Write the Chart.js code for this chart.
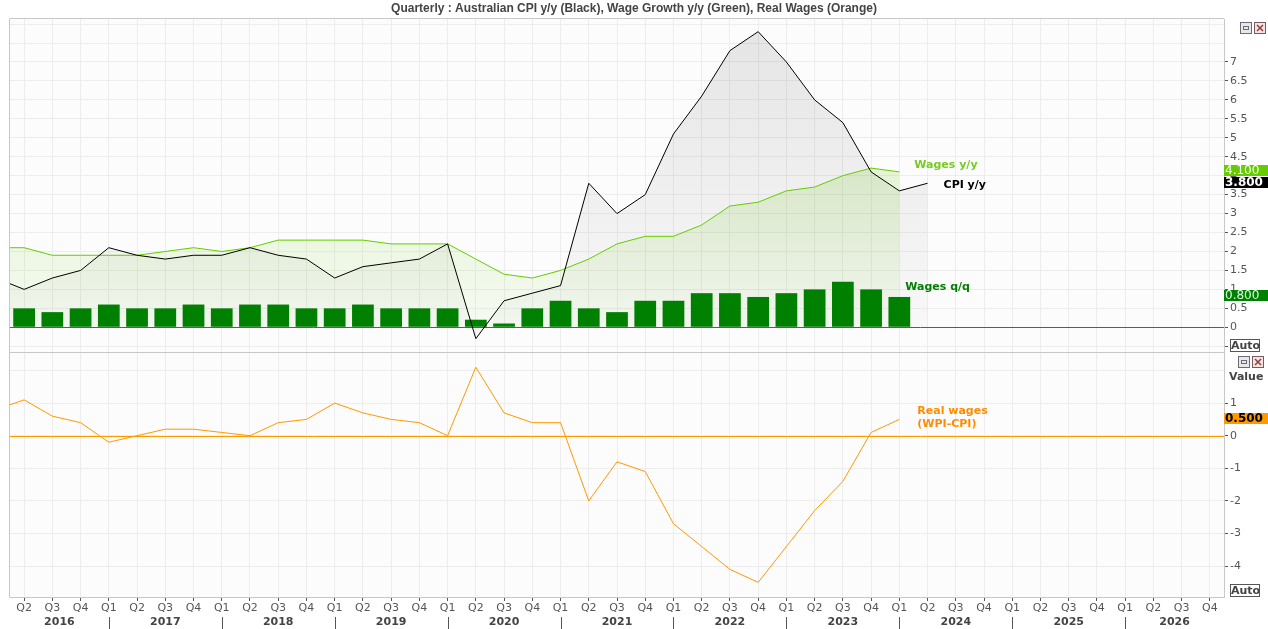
<!DOCTYPE html>
<html>
<head>
<meta charset="utf-8">
<script src="https://cdn.jsdelivr.net/npm/chart.js@4.4.1/dist/chart.umd.min.js"></script>
<style>
    html, body { margin: 0; padding: 0; background: #ffffff; }
    #wrap { position: relative; width: 1268px; height: 629px; overflow: hidden; }
    #top { position: absolute; left: 0; top: 0; }
    #bottom { position: absolute; left: 0; top: 352px; }
</style>
</head>
<body>
<div id="wrap">
    <canvas id="top" width="1268" height="353"></canvas>
    <canvas id="bottom" width="1268" height="277"></canvas>
</div>
<script>
// Quarter axis labels, 2016 Q2 to 2026 Q4 (index 0 = 2016 Q2)
const quarterLabels = [
    'Q2', 'Q3', 'Q4',
    'Q1', 'Q2', 'Q3', 'Q4',
    'Q1', 'Q2', 'Q3', 'Q4',
    'Q1', 'Q2', 'Q3', 'Q4',
    'Q1', 'Q2', 'Q3', 'Q4',
    'Q1', 'Q2', 'Q3', 'Q4',
    'Q1', 'Q2', 'Q3', 'Q4',
    'Q1', 'Q2', 'Q3', 'Q4',
    'Q1', 'Q2', 'Q3', 'Q4',
    'Q1', 'Q2', 'Q3', 'Q4',
    'Q1', 'Q2', 'Q3', 'Q4'
];
const years = ['2016', '2017', '2018', '2019', '2020', '2021', '2022', '2023', '2024', '2025', '2026'];

// Series start at 2016 Q1 (index -1, just off the left edge)
const cpiYoY = [1.3, 1.0, 1.3, 1.5, 2.1, 1.9, 1.8, 1.9, 1.9, 2.1, 1.9, 1.8, 1.3, 1.6, 1.7, 1.8,
    2.2, -0.3, 0.7, 0.9, 1.1, 3.8, 3.0, 3.5, 5.1, 6.1, 7.3, 7.8, 7.0, 6.0, 5.4, 4.1, 3.6, 3.8];
const wagesYoY = [2.1, 2.1, 1.9, 1.9, 1.9, 1.9, 2.0, 2.1, 2.0, 2.1, 2.3, 2.3, 2.3, 2.3, 2.2, 2.2,
    2.2, 1.8, 1.4, 1.3, 1.5, 1.8, 2.2, 2.4, 2.4, 2.7, 3.2, 3.3, 3.6, 3.7, 4.0, 4.2, 4.1];
const realWages = [0.8, 1.1, 0.6, 0.4, -0.2, 0.0, 0.2, 0.2, 0.1, 0.0, 0.4, 0.5, 1.0, 0.7, 0.5, 0.4,
    0.0, 2.1, 0.7, 0.4, 0.4, -2.0, -0.8, -1.1, -2.7, -3.4, -4.1, -4.5, -3.4, -2.3, -1.4, 0.1, 0.5];
// Wages q/q starts at 2016 Q2 (index 0)
const wagesQoQ = [0.5, 0.4, 0.5, 0.6, 0.5, 0.5, 0.6, 0.5, 0.6, 0.6, 0.5, 0.5, 0.6, 0.5, 0.5, 0.5,
    0.2, 0.1, 0.5, 0.7, 0.5, 0.4, 0.7, 0.7, 0.9, 0.9, 0.8, 0.9, 1.0, 1.2, 1.0, 0.8];

const topTicks = [-0.5, 0, 0.5, 1, 1.5, 2, 2.5, 3, 3.5, 4, 4.5, 5, 5.5, 6, 6.5, 7, 7.5, 8];
const bottomTicks = [-4, -3, -2, -1, 0, 1, 2];

const X_MIN = -0.5;
const X_MAX = 42.5;
const FONT = 'DejaVu Sans';

function pts(arr, start) {
    return arr.map((v, i) => ({ x: start + i, y: v }));
}

function lastOf(arr, start) {
    return { x: start + arr.length - 1, y: arr[arr.length - 1] };
}

// Gradient fill under a line, from a value down to zero
function fadeFill(r, g, b, aTop, aBottom, fromValue) {
    return (ctx) => {
        const chart = ctx.chart;
        const area = chart.chartArea;
        if (!area) return 'transparent';
        const y = chart.scales.y;
        const g1 = chart.ctx.createLinearGradient(0, y.getPixelForValue(fromValue), 0, y.getPixelForValue(0));
        g1.addColorStop(0, `rgba(${r},${g},${b},${aTop})`);
        g1.addColorStop(1, `rgba(${r},${g},${b},${aBottom})`);
        return g1;
    };
}

// no extra room for half tick labels at the ends of an axis
function noPad(s) {
    s.paddingTop = 0;
    s.paddingBottom = 0;
    s.paddingLeft = 0;
    s.paddingRight = 0;
}

// Panel background, frame and the coloured zero line
const panelPlugin = {
    id: 'panel',
    beforeDraw(chart) {
        const { ctx, chartArea: a } = chart;
        ctx.save();
        ctx.fillStyle = '#fcfcfc';
        ctx.fillRect(a.left, a.top, a.right - a.left, a.bottom - a.top);
        ctx.restore();
    },
    beforeDatasetsDraw(chart, args, opts) {
        const { ctx, chartArea: a } = chart;
        ctx.save();
        ctx.strokeStyle = '#c8c8c8';
        ctx.lineWidth = 1;
        ctx.beginPath();
        ctx.moveTo(a.right, a.top - 0.5);
        ctx.lineTo(a.left - 0.5, a.top - 0.5);
        ctx.lineTo(a.left - 0.5, a.bottom + 0.5);
        ctx.lineTo(a.right, a.bottom + 0.5);
        ctx.stroke();

        const zy = Math.round(chart.scales.y.getPixelForValue(0)) + 0.5;
        ctx.strokeStyle = opts.zeroColor || '#888';
        ctx.beginPath();
        ctx.moveTo(a.left, zy);
        ctx.lineTo(a.right, zy);
        ctx.stroke();
        ctx.restore();
    }
};

function drawIcons(ctx, x, y) {
    ctx.save();
    ctx.lineWidth = 1;
    // minimise
    ctx.fillStyle = '#e8e8e8';
    ctx.strokeStyle = '#6a6a7a';
    ctx.fillRect(x + 0.5, y + 0.5, 11, 11);
    ctx.strokeRect(x + 0.5, y + 0.5, 11, 11);
    ctx.strokeRect(x + 3.5, y + 4.5, 5, 3);
    // close
    ctx.fillStyle = '#f0e4e4';
    ctx.strokeStyle = '#7a5a5a';
    ctx.fillRect(x + 14.5, y + 0.5, 11, 11);
    ctx.strokeRect(x + 14.5, y + 0.5, 11, 11);
    ctx.strokeStyle = '#9a3a3a';
    ctx.lineWidth = 1.5;
    ctx.beginPath();
    ctx.moveTo(x + 17, y + 3); ctx.lineTo(x + 23, y + 9);
    ctx.moveTo(x + 23, y + 3); ctx.lineTo(x + 17, y + 9);
    ctx.stroke();
    ctx.restore();
}

function drawAuto(ctx, x, y) {
    ctx.save();
    ctx.fillStyle = '#ffffff';
    ctx.fillRect(x, y, 29, 12);
    ctx.strokeStyle = '#555';
    ctx.lineWidth = 1;
    ctx.strokeRect(x + 0.5, y + 0.5, 29, 12);
    ctx.fillStyle = '#444';
    ctx.font = `bold 11px ${FONT}`;
    ctx.textBaseline = 'middle';
    ctx.fillText('Auto', x + 1, y + 7);
    ctx.restore();
}

function valueBox(ctx, py, text, bg, fg, bold) {
    ctx.save();
    ctx.fillStyle = bg;
    ctx.fillRect(1224, Math.round(py) - 6, 44, 11);
    ctx.fillStyle = fg;
    ctx.font = `${bold ? 'bold ' : ''}12px ${FONT}`;
    ctx.textBaseline = 'middle';
    ctx.fillText(text, 1225, Math.round(py));
    ctx.restore();
}

function label(ctx, text, x, y, color) {
    ctx.save();
    ctx.fillStyle = color;
    ctx.font = `bold 11px ${FONT}`;
    ctx.textBaseline = 'middle';
    ctx.fillText(text, x, y);
    ctx.restore();
}

const topLabels = {
    id: 'topLabels',
    afterDraw(chart) {
        const { ctx } = chart;
        const xs = chart.scales.x, ys = chart.scales.y;

        ctx.save();
        ctx.fillStyle = '#444';
        ctx.font = `bold 12px 'Liberation Sans'`;
        ctx.textAlign = 'center';
        ctx.textBaseline = 'middle';
        ctx.fillText('Quarterly : Australian CPI y/y (Black), Wage Growth y/y (Green), Real Wages (Orange)', 634, 9);
        ctx.restore();

        const w = lastOf(wagesYoY, -1);
        const c = lastOf(cpiYoY, -1);
        const q = lastOf(wagesQoQ, 0);
        label(ctx, 'Wages y/y', xs.getPixelForValue(w.x) + 15, ys.getPixelForValue(w.y) - 7, '#77cc22');
        label(ctx, 'CPI y/y', xs.getPixelForValue(c.x) + 16, ys.getPixelForValue(c.y) + 2, '#000000');
        label(ctx, 'Wages q/q', xs.getPixelForValue(q.x) + 6, ys.getPixelForValue(q.y) - 10, '#008000');

        valueBox(ctx, ys.getPixelForValue(w.y) - 1, w.y.toFixed(3), '#66cc00', '#ffffff', false);
        valueBox(ctx, ys.getPixelForValue(c.y), c.y.toFixed(3), '#000000', '#ffffff', true);
        valueBox(ctx, ys.getPixelForValue(q.y) - 1, q.y.toFixed(3), '#008000', '#d8ffd8', false);

        drawIcons(ctx, 1240, 22);
        drawAuto(ctx, 1230, 339);
    }
};

const bottomLabels = {
    id: 'bottomLabels',
    afterDraw(chart) {
        const { ctx, chartArea: a } = chart;
        const xs = chart.scales.x, ys = chart.scales.y;
        const r = lastOf(realWages, -1);
        const px = xs.getPixelForValue(r.x), py = ys.getPixelForValue(r.y);
        label(ctx, 'Real wages', px + 18, py - 8, '#ff8c00');
        label(ctx, '(WPI-CPI)', px + 18, py + 5, '#ff8c00');
        valueBox(ctx, py, r.y.toFixed(3), '#ff9900', '#000000', true);

        drawIcons(ctx, 1238, 4);
        ctx.save();
        ctx.fillStyle = '#444';
        ctx.font = `bold 11px ${FONT}`;
        ctx.textBaseline = 'middle';
        ctx.fillText('Value', 1229, 25);
        ctx.restore();
        drawAuto(ctx, 1230, 232);

        // year separators and year labels under the quarter ticks
        ctx.save();
        ctx.strokeStyle = '#555';
        ctx.lineWidth = 1;
        ctx.fillStyle = '#444';
        ctx.font = `bold 11px ${FONT}`;
        ctx.textAlign = 'center';
        ctx.textBaseline = 'middle';
        years.forEach((yr, k) => {
            const q1 = k * 4 - 1;
            const left = k === 0 ? a.left : xs.getPixelForValue(q1);
            const right = k === years.length - 1 ? a.right : xs.getPixelForValue(q1 + 4);
            if (k > 0) {
                const sx = Math.round(left) + 0.5;
                ctx.beginPath();
                ctx.moveTo(sx, 265);
                ctx.lineTo(sx, 277);
                ctx.stroke();
            }
            ctx.fillText(yr, (left + right) / 2, 270);
        });
        ctx.restore();
    }
};

const quarterTicks = (s) => { s.ticks = quarterLabels.map((_, i) => ({ value: i })); };

// Top panel: CPI y/y, wages y/y, wages q/q
new Chart(document.getElementById('top'), {
    type: 'line',
    data: {
        datasets: [
            {
                type: 'line',
                label: 'CPI y/y',
                data: pts(cpiYoY, -1),
                borderColor: '#000000',
                borderWidth: 1,
                pointRadius: 0,
                fill: 'origin',
                backgroundColor: fadeFill(0, 0, 0, 0.09, 0.015, 7.8),
                order: 0
            },
            {
                type: 'line',
                label: 'Wages y/y',
                data: pts(wagesYoY, -1),
                borderColor: '#66cc00',
                borderWidth: 1,
                pointRadius: 0,
                fill: 'origin',
                backgroundColor: fadeFill(102, 204, 0, 0.16, 0.04, 4.2),
                order: 1
            },
            {
                type: 'bar',
                label: 'Wages q/q',
                data: pts(wagesQoQ, 0),
                backgroundColor: '#008000',
                barPercentage: 0.77,
                categoryPercentage: 1,
                order: 2
            }
        ]
    },
    options: {
        responsive: false,
        animation: false,
        layout: { padding: { left: 10, top: 19, right: 0, bottom: 1 } },
        plugins: {
            legend: { display: false },
            tooltip: { enabled: false },
            filler: { drawTime: 'beforeDatasetsDraw' },
            panel: { zeroColor: '#2e7d2e' }
        },
        scales: {
            x: {
                type: 'linear',
                min: X_MIN,
                max: X_MAX,
                offset: false,
                grid: { color: '#ededed', drawTicks: false, offset: false },
                border: { display: false },
                ticks: { display: false },
                afterBuildTicks: quarterTicks,
                afterFit: (s) => { s.height = 0; noPad(s); }
            },
            y: {
                position: 'right',
                min: -0.652,
                max: 8.134,
                afterBuildTicks: (s) => { s.ticks = topTicks.map(v => ({ value: v })); },
                afterFit: (s) => { s.width = 44; noPad(s); },
                grid: {
                    color: '#ededed',
                    tickColor: (c) => c.tick && c.tick.value <= 7 ? '#555' : 'rgba(0,0,0,0)',
                    tickLength: 4
                },
                border: { color: '#c8c8c8' },
                ticks: {
                    padding: 2,
                    color: '#555',
                    font: { family: FONT, size: 11 },
                    callback: (v) => (v >= 0 && v <= 7) ? String(v) : ''
                }
            }
        }
    },
    plugins: [panelPlugin, topLabels]
});

// Bottom panel: real wages
new Chart(document.getElementById('bottom'), {
    type: 'line',
    data: {
        datasets: [{
            label: 'Real wages',
            data: pts(realWages, -1),
            borderColor: '#ff9900',
            borderWidth: 1,
            pointRadius: 0,
            fill: false
        }]
    },
    options: {
        responsive: false,
        animation: false,
        layout: { padding: { left: 10, top: 1, right: 0, bottom: 0 } },
        plugins: {
            legend: { display: false },
            tooltip: { enabled: false },
            panel: { zeroColor: '#ff9900' }
        },
        scales: {
            x: {
                type: 'linear',
                min: X_MIN,
                max: X_MAX,
                offset: false,
                grid: { color: '#ededed', tickColor: '#555', tickLength: 4, offset: false },
                border: { color: '#c8c8c8' },
                ticks: {
                    padding: 1,
                    color: '#555',
                    maxRotation: 0,
                    autoSkip: false,
                    font: { family: FONT, size: 11 },
                    callback: (v, i) => quarterLabels[i]
                },
                afterBuildTicks: quarterTicks,
                afterFit: (s) => { s.height = 32; noPad(s); }
            },
            y: {
                position: 'right',
                min: -4.948,
                max: 2.537,
                afterBuildTicks: (s) => { s.ticks = bottomTicks.map(v => ({ value: v })); },
                afterFit: (s) => { s.width = 44; noPad(s); },
                grid: {
                    color: '#ededed',
                    tickColor: (c) => c.tick && c.tick.value <= 1 ? '#555' : 'rgba(0,0,0,0)',
                    tickLength: 4
                },
                border: { color: '#c8c8c8' },
                ticks: {
                    padding: 2,
                    color: '#555',
                    font: { family: FONT, size: 11 },
                    callback: (v) => v <= 1 ? String(v) : ''
                }
            }
        }
    },
    plugins: [panelPlugin, bottomLabels]
});
</script>
</body>
</html>
